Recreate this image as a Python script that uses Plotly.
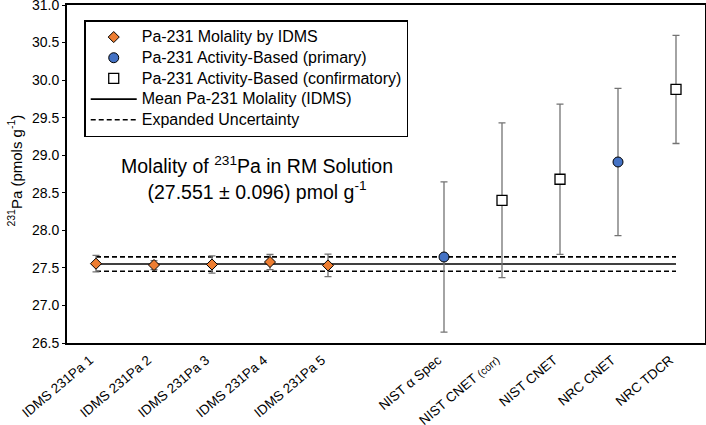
import plotly.graph_objects as go

idms_labels = ["IDMS 231Pa 1", "IDMS 231Pa 2", "IDMS 231Pa 3", "IDMS 231Pa 4", "IDMS 231Pa 5"]
idms_pos = [1, 2, 3, 4, 5]
idms_vals = [27.556, 27.538, 27.545, 27.578, 27.533]
idms_err = [0.11, 0.06, 0.115, 0.10, 0.15]

prim_labels = ["NIST α Spec", "NRC CNET"]
prim_pos = [7, 10]
prim_vals = [27.645, 28.91]
prim_err = [1.0, 0.98]

conf_labels = ["NIST CNET <span style='font-size:10.5px'>(corr)</span>", "NIST CNET", "NRC TDCR"]
conf_pos = [8, 9, 11]
conf_vals = [28.40, 28.68, 29.876]
conf_err = [1.03, 1.0, 0.72]

mean_val = 27.551
mean_unc = 0.096
line_x = [1, 11]

tick_pos = [1, 2, 3, 4, 5, 7, 8, 9, 10, 11]
tick_text = idms_labels + ["NIST α Spec", conf_labels[0], "NIST CNET", "NRC CNET", "NRC TDCR"]

legend_names = ["Pa-231 Molality by IDMS", "Pa-231 Activity-Based (primary)",
                "Pa-231 Activity-Based (confirmatory)", "Mean Pa-231 Molality (IDMS)",
                "Expanded Uncertainty"]


def lg(name):
    return "<span style='font-size:16px'>" + name + "</span>"


font = "Liberation Sans, Arial, sans-serif"
err_color = "#737373"
dash_style = "5px,3px"

fig = go.Figure()

fig.add_trace(go.Scatter(x=line_x, y=[mean_val, mean_val], mode="lines",
                         line=dict(color="black", width=1.6),
                         name=legend_names[3], showlegend=False))
fig.add_trace(go.Scatter(x=line_x, y=[mean_val + mean_unc] * 2, mode="lines",
                         line=dict(color="black", width=1.6, dash=dash_style),
                         showlegend=False, name=legend_names[4]))
fig.add_trace(go.Scatter(x=line_x, y=[mean_val - mean_unc] * 2, mode="lines",
                         line=dict(color="black", width=1.6, dash=dash_style),
                         showlegend=False, name=legend_names[4]))

fig.add_trace(go.Scatter(x=idms_pos, y=idms_vals, mode="markers",
                         name=lg(legend_names[0]),
                         marker=dict(symbol="diamond", size=8.5, color="#ED7D31",
                                     line=dict(color="black", width=1)),
                         error_y=dict(type="data", array=idms_err, color=err_color,
                                      thickness=1.3, width=3.5)))
fig.add_trace(go.Scatter(x=prim_pos, y=prim_vals, mode="markers",
                         name=lg(legend_names[1]),
                         marker=dict(symbol="circle", size=10, color="#4472C4",
                                     line=dict(color="black", width=1)),
                         error_y=dict(type="data", array=prim_err, color=err_color,
                                      thickness=1.3, width=3.5)))
fig.add_trace(go.Scatter(x=conf_pos, y=conf_vals, mode="markers",
                         name=lg(legend_names[2]),
                         marker=dict(symbol="square", size=10, color="white",
                                     line=dict(color="black", width=1.3)),
                         error_y=dict(type="data", array=conf_err, color=err_color,
                                      thickness=1.3, width=3.5)))
# legend-only line entries
fig.add_trace(go.Scatter(x=[None], y=[None], mode="lines",
                         line=dict(color="black", width=1.6),
                         name=lg(legend_names[3])))
fig.add_trace(go.Scatter(x=[None], y=[None], mode="lines",
                         line=dict(color="black", width=1.6, dash=dash_style),
                         name=lg(legend_names[4])))

fig.add_annotation(x=0.2975, y=0.489, xref="paper", yref="paper",
                   xanchor="center", yanchor="middle",
                   text="Molality of <sup>231</sup>Pa in RM Solution<br>(27.551 ± 0.096) pmol g<sup>-1</sup>",
                   showarrow=False, font=dict(size=19.5, color="black", family=font),
                   align="center")

fig.add_annotation(x=-0.0815, y=0.51, xref="paper", yref="paper",
                   xanchor="center", yanchor="middle", textangle=-90,
                   text="<sup>231</sup>Pa (pmols g<sup>-1</sup>)",
                   showarrow=False, font=dict(size=15, color="black", family=font))

fig.update_layout(
    width=706, height=425,
    margin=dict(l=67, r=1, t=5, b=82),
    plot_bgcolor="white", paper_bgcolor="white",
    font=dict(family=font, size=14, color="black"),
    legend=dict(x=0.027, y=0.955, xanchor="left", yanchor="top",
                bordercolor="black", borderwidth=1.5, bgcolor="white",
                font=dict(size=13.6), tracegroupgap=0, itemwidth=46),
    xaxis=dict(range=[0.5, 11.5], tickmode="array", tickvals=tick_pos, ticktext=tick_text,
               tickangle=-40, tickfont=dict(size=13.5), showgrid=False, zeroline=False,
               showline=True, linecolor="black", linewidth=2, mirror=True, ticks="",
               automargin=False, ticklabeloverflow="allow",
               ticklabelshift=-6, ticklabelstandoff=2),
    yaxis=dict(range=[26.5, 31.0], dtick=0.5, tickformat=".1f", showgrid=False,
               zeroline=False, showline=True, linecolor="black", linewidth=2, mirror=True,
               ticks="outside", ticklen=3, tickcolor="black", automargin=False,
               ticklabeloverflow="allow"),
)

fig.write_html("out.html", post_script="document.body.style.margin='0px';",
               config={"displayModeBar": False})
